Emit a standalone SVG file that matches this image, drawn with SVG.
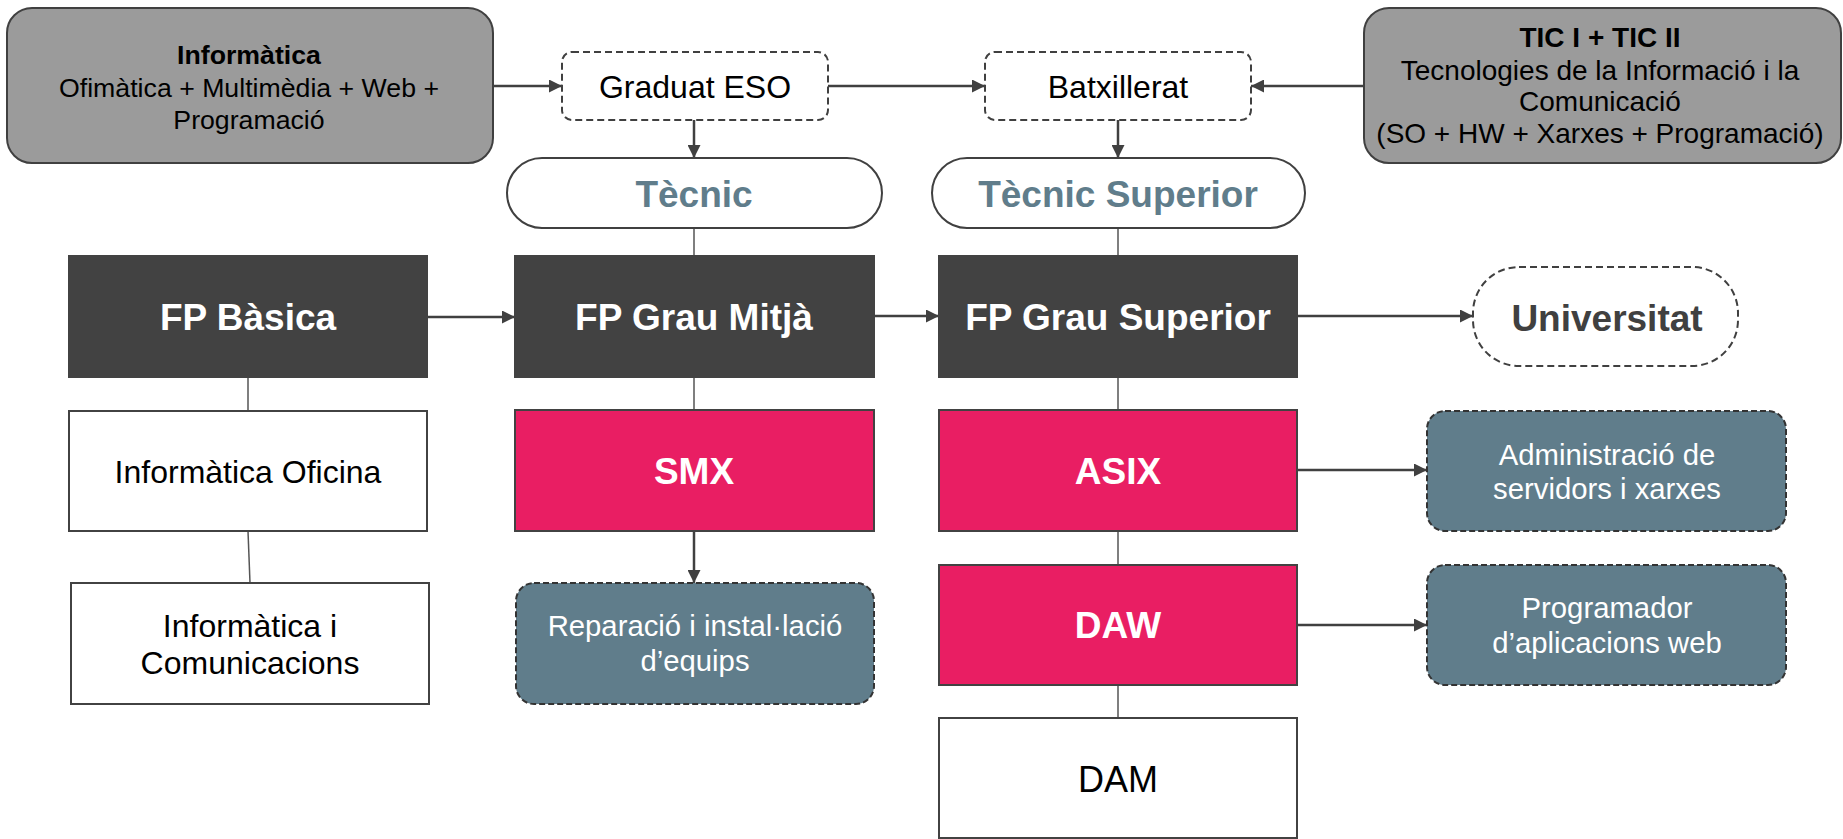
<svg xmlns="http://www.w3.org/2000/svg" width="1843" height="839" viewBox="0 0 1843 839">
<style>
text{font-family:"Liberation Sans",Arial,sans-serif;text-anchor:middle}
.gray{fill:#9b9b9b;stroke:#404040;stroke-width:2}
.dash{fill:#fff;stroke:#404040;stroke-width:2;stroke-dasharray:7 4}
.pill{fill:#fff;stroke:#404040;stroke-width:2}
.fp{fill:#424242;stroke:#424242;stroke-width:2}
.pink{fill:#e91e63;stroke:#424242;stroke-width:2}
.white{fill:#fff;stroke:#424242;stroke-width:2}
.slate{fill:#607d8b;stroke:#333;stroke-width:2;stroke-dasharray:6 3}
.hw{font-weight:bold;font-size:37px;fill:#fff}
.t32{font-size:32px;fill:#000}
.t29w{font-size:29.3px;fill:#fff}
.tec{font-weight:bold;font-size:37px;fill:#607d8b}
.arr{stroke:#404040;stroke-width:2.5;fill:none;marker-end:url(#ah)}
.ln{stroke:#555;stroke-width:1.5;fill:none}
</style>
<defs>
<marker id="ah" viewBox="0 0 10 10" refX="10" refY="5" markerUnits="userSpaceOnUse" markerWidth="15" markerHeight="13" orient="auto">
<path d="M0,0 L10,5 L0,10 z" fill="#404040"/>
</marker>
</defs>
<g id="connectors">
<line class="arr" x1="493" y1="86" x2="562" y2="86"/>
<line class="arr" x1="828" y1="86" x2="985" y2="86"/>
<line class="arr" x1="1364" y1="86" x2="1251" y2="86"/>
<line class="arr" x1="694" y1="120" x2="694" y2="158"/>
<line class="arr" x1="1118" y1="120" x2="1118" y2="158"/>
<line class="ln" x1="694" y1="228" x2="694" y2="256"/>
<line class="ln" x1="1118" y1="228" x2="1118" y2="256"/>
<line class="arr" x1="427" y1="317" x2="515" y2="317"/>
<line class="arr" x1="874" y1="316" x2="939" y2="316"/>
<line class="arr" x1="1297" y1="316" x2="1473" y2="316"/>
<line class="ln" x1="248" y1="377" x2="248" y2="411"/>
<line class="ln" x1="248" y1="531" x2="250" y2="583"/>
<line class="ln" x1="694" y1="377" x2="694" y2="410"/>
<line class="arr" x1="694" y1="531" x2="694" y2="583"/>
<line class="ln" x1="1118" y1="377" x2="1118" y2="410"/>
<line class="ln" x1="1118" y1="531" x2="1118" y2="565"/>
<line class="ln" x1="1118" y1="685" x2="1118" y2="718"/>
<line class="arr" x1="1297" y1="470" x2="1427" y2="470"/>
<line class="arr" x1="1297" y1="625" x2="1427" y2="625"/>
</g>
<g id="informatica">
<rect class="gray" x="7" y="8" width="486" height="155" rx="25"/>
<text x="249" y="64" font-size="26.7" font-weight="bold" fill="#000">Informàtica</text>
<text x="249" y="97" font-size="26.7" fill="#000">Ofimàtica + Multimèdia + Web +</text>
<text x="249" y="129" font-size="26.7" fill="#000">Programació</text>
</g>
<g id="graduat">
<rect class="dash" x="562" y="52" width="266" height="68" rx="10"/>
<text class="t32" x="695" y="98">Graduat ESO</text>
</g>
<g id="batxillerat">
<rect class="dash" x="985" y="52" width="266" height="68" rx="10"/>
<text class="t32" x="1118" y="98">Batxillerat</text>
</g>
<g id="tic">
<rect class="gray" x="1364" y="8" width="477" height="155" rx="25"/>
<text x="1600" y="47" font-size="28" font-weight="bold" fill="#000">TIC I + TIC II</text>
<text x="1600" y="80" font-size="28" fill="#000">Tecnologies de la Informació i la</text>
<text x="1600" y="111" font-size="28" fill="#000">Comunicació</text>
<text x="1600" y="143" font-size="28" fill="#000">(SO + HW + Xarxes + Programació)</text>
</g>
<g id="tecnic">
<rect class="pill" x="507" y="158" width="375" height="70" rx="35"/>
<text class="tec" x="694" y="207">Tècnic</text>
</g>
<g id="tecnic-superior">
<rect class="pill" x="932" y="158" width="373" height="70" rx="35"/>
<text class="tec" x="1118" y="207">Tècnic Superior</text>
</g>
<g id="fp-basica">
<rect class="fp" x="69" y="256" width="358" height="121"/>
<text class="hw" x="248" y="330">FP Bàsica</text>
</g>
<g id="fp-grau-mitja">
<rect class="fp" x="515" y="256" width="359" height="121"/>
<text class="hw" x="694" y="330">FP Grau Mitjà</text>
</g>
<g id="fp-grau-superior">
<rect class="fp" x="939" y="256" width="358" height="121"/>
<text class="hw" x="1118" y="330">FP Grau Superior</text>
</g>
<g id="universitat">
<rect class="dash" x="1473" y="267" width="265" height="99" rx="46"/>
<text x="1607" y="331" font-size="37" font-weight="bold" fill="#404040">Universitat</text>
</g>
<g id="informatica-oficina">
<rect class="white" x="69" y="411" width="358" height="120"/>
<text class="t32" x="248" y="483">Informàtica Oficina</text>
</g>
<g id="informatica-comunicacions">
<rect class="white" x="71" y="583" width="358" height="121"/>
<text class="t32" x="250" y="637">Informàtica i</text>
<text class="t32" x="250" y="674">Comunicacions</text>
</g>
<g id="smx">
<rect class="pink" x="515" y="410" width="359" height="121"/>
<text class="hw" x="694" y="484">SMX</text>
</g>
<g id="reparacio">
<rect class="slate" x="516" y="583" width="358" height="121" rx="18"/>
<text class="t29w" x="695" y="636">Reparació i instal·lació</text>
<text class="t29w" x="695" y="671">d’equips</text>
</g>
<g id="asix">
<rect class="pink" x="939" y="410" width="358" height="121"/>
<text class="hw" x="1118" y="484">ASIX</text>
</g>
<g id="daw">
<rect class="pink" x="939" y="565" width="358" height="120"/>
<text class="hw" x="1118" y="638">DAW</text>
</g>
<g id="dam">
<rect class="white" x="939" y="718" width="358" height="120"/>
<text x="1118" y="792" font-size="36" fill="#000">DAM</text>
</g>
<g id="administracio">
<rect class="slate" x="1427" y="411" width="359" height="120" rx="18"/>
<text class="t29w" x="1607" y="465">Administració de</text>
<text class="t29w" x="1607" y="499">servidors i xarxes</text>
</g>
<g id="programador">
<rect class="slate" x="1427" y="565" width="359" height="120" rx="18"/>
<text class="t29w" x="1607" y="618">Programador</text>
<text class="t29w" x="1607" y="653">d’aplicacions web</text>
</g>
</svg>
